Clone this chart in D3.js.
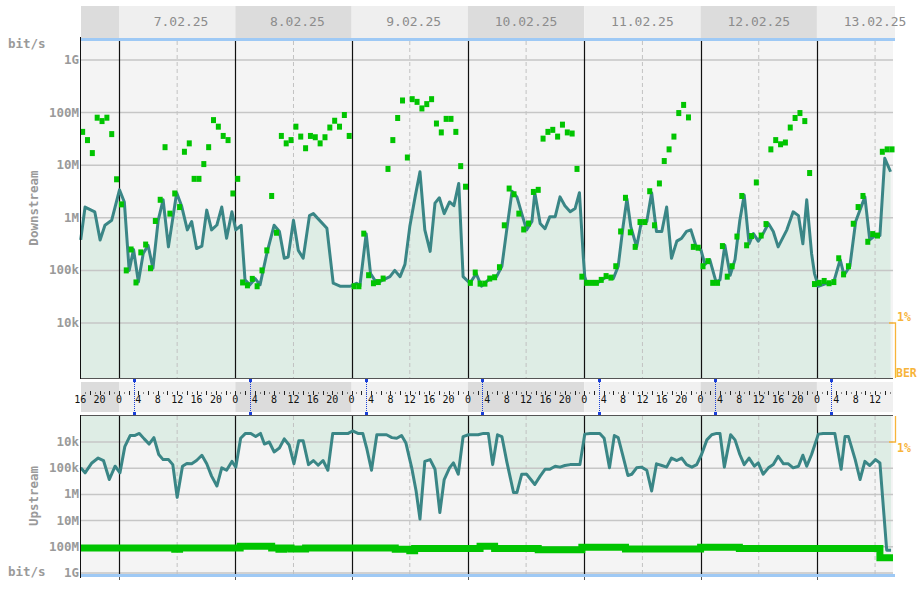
<!DOCTYPE html>
<meta charset="utf-8">
<style>
  body { margin: 0; background: #fff; }
  text { font-family: "DejaVu Sans Mono", monospace; }
  .ylab { font-size: 12.5px; font-weight: bold; fill: #9a9a9a; }
  .day { font-size: 13px; fill: #8c8c8c; }
  .hour { font-size: 10px; fill: #111; }
  .ber { font-size: 11.5px; font-weight: bold; fill: #f7b43a; }
</style>
<body></body>
<script src="https://d3js.org/d3.v7.min.js"></script>
<script>

// days shown in the header (hour 0 = 7.02.25 00:00)
var days = ["7.02.25", "8.02.25", "9.02.25", "10.02.25", "11.02.25", "12.02.25", "13.02.25"];

var yTicks = [1e4, 1e5, 1e6, 1e7, 1e8, 1e9];
var yTickLabels = ["10k", "100k", "1M", "10M", "100M", "1G"];

// downstream rate (teal line), hours / bit/s
var dsHours = [-7.9, -7.0, -5.0, -3.9, -2.9, -1.5, 0.1, 1.1, 2.1, 3.0, 4.0, 5.0, 6.0, 7.0, 8.1, 9.1, 10.2, 11.9,
  12.9, 14.1, 15.0, 16.0, 17.1, 18.1, 19.1, 20.2, 21.2, 22.2, 23.3, 24.1, 25.2, 26.0, 27.0, 28.1, 29.1, 30.5,
  32.0, 33.1, 34.1, 34.9, 36.0, 37.0, 38.0, 39.3, 40.1, 42.9, 44.2, 45.6, 47.7, 49.0, 49.7, 51.0, 51.9, 53.2,
  54.5, 55.9, 56.9, 58.0, 59.0, 60.0, 61.1, 62.1, 63.1, 64.2, 65.2, 66.1, 67.1, 68.2, 69.1, 70.1, 71.0, 72.4,
  73.7, 74.8, 76.2, 77.9, 79.0, 80.0, 81.1, 82.1, 83.1, 84.1, 85.2, 85.8, 86.9, 87.9, 88.9, 90.0, 91.0, 92.0,
  93.1, 94.1, 95.0, 95.8, 96.1, 96.5, 98.6, 100.6, 102.0, 103.0, 104.0, 104.8, 105.6, 106.8, 107.8, 108.9,
  109.9, 110.9, 112.0, 113.0, 114.0, 115.1, 116.1, 117.1, 118.0, 119.0, 120.1, 120.9, 121.9, 123.2, 124.0,
  125.0, 126.1, 127.1, 128.1, 129.0, 130.0, 130.9, 131.9, 132.9, 134.0, 135.0, 136.0, 137.8, 139.1, 140.2,
  141.1, 141.9, 142.9, 143.5, 144.3, 146.0, 147.4, 148.8, 149.6, 150.8, 152.0, 153.9, 154.9, 156.0, 157.0,
  158.0, 159.2];
var dsRate = [3.8e5, 1.6e6, 1.3e6, 3.8e5, 7.2e5, 9e5, 3.4e6, 2e6, 1e5, 2.5e5, 6e4, 2.1e5, 3e5, 1.1e5, 9e5, 2.2e6, 2.8e5, 3e6,
  1.7e6, 5.9e5, 8.5e5, 2.6e5, 2.9e5, 1.4e6, 5.9e5, 7.3e5, 1.6e6, 4.1e5, 1.3e6, 5.9e5, 7.2e5, 6.6e4, 5.3e4, 7e4, 5.3e4, 2.1e5,
  7.2e5, 5.5e5, 1.7e5, 1.8e5, 9e5, 2.4e5, 1.7e5, 1.1e6, 1.2e6, 6.3e5, 5.7e4, 5e4, 5e4, 5.7e4, 5e4, 5e5, 8.7e4, 5.7e4,
  6.6e4, 7.6e4, 1e5, 7.6e4, 1.3e5, 6.8e5, 2.5e6, 7.5e6, 5.9e5, 2.3e5, 1.9e6, 2.4e6, 1.2e6, 2e6, 1.7e6, 4.5e6, 7.6e4, 5.7e4,
  8.7e4, 5e4, 6.6e4, 7.6e4, 1.2e5, 5.9e5, 3.2e6, 2.5e6, 1.2e6, 5.9e5, 8.5e5, 3e6, 7.8e5, 6.2e5, 1.05e6, 1.05e6, 2.5e6, 1.7e6,
  1.3e6, 1.5e6, 3e6, 1.8e5, 7.6e4, 5.7e4, 5.7e4, 7.6e4, 7e4, 1.2e5, 6.8e5, 2.3e6, 6.8e5, 2.8e5, 8.5e5, 8.5e5,
  3e6, 5.5e5, 5.5e5, 1.6e6, 1.7e5, 3.6e5, 4.1e5, 5.5e5, 5.9e5, 3e5, 2.4e5, 1.3e5, 1.6e5, 6e4, 6.6e4,
  3e5, 8.1e4, 1.6e5, 9e5, 2.7e6, 3.2e5, 5e5, 3.6e5, 5e5, 7.8e5, 5.5e5, 2.8e5, 5.9e5, 1.3e6, 1.1e6,
  3.2e5, 2.2e6, 2.1e5, 8.7e4, 5e4, 5.7e4, 5.7e4, 1.6e5, 8.1e4, 1.2e5, 8.5e5, 2.5e6, 3.8e5, 4.6e5, 4.6e5,
  1.35e7, 7.5e6];

// downstream error samples (green squares), one per hour from hour -7.5
var dsErrStart = -7.5;
var dsErrors = [4.3e7, 3e7, 1.7e7, 8e7, 6.9e7, 8e7, 3.9e7, 5.4e6, 1.8e6, 1e5,
  2.5e5, 5.9e4, 2.2e5, 3.1e5, 1.1e5, 8.7e5, 2.2e6, 2.2e7, 1.2e6, 2.9e6,
  1.6e6, 1.8e7, 2.6e7, 5.5e6, 5.5e6, 1.05e7, 2.2e7, 7.2e7, 5.4e7, 3.6e7,
  3e7, 2.9e6, 5.5e6, 5.9e4, 5.2e4, 6.9e4, 5e4, 1e5, 2.4e5, 2.6e6,
  5.2e5, 3.6e7, 2.6e7, 3e7, 5.4e7, 3.5e7, 2.1e7, 3.6e7, 3.4e7, 2.6e7,
  3.4e7, 5.2e7, 7e7, 5.4e7, 9e7, 3.6e7, 5e4, 5e4, 5e5, 8.1e4,
  5.7e4, 6e4, 7e4, 8.5e6, 3e7, 7.9e7, 1.7e8, 1.4e7, 1.8e8, 1.6e8,
  1.2e8, 1.45e8, 1.8e8, 6.2e7, 4.2e7, 7.6e7, 7.6e7, 4.3e7, 9.6e6, 3.9e6,
  5.8e4, 9.1e4, 5.6e4, 5.6e4, 7e4, 7.4e4, 1.15e5, 7.2e5, 3.6e6, 2.8e6,
  1.2e6, 6e5, 7.8e5, 3.1e6, 3.4e6, 3.2e7, 4.3e7, 4.7e7, 3.5e7, 5.9e7,
  4.2e7, 4e7, 8.5e6, 7.6e4, 5.8e4, 5.8e4, 5.8e4, 6.6e4, 7.8e4, 7.3e4,
  1.2e5, 5.5e5, 2.4e6, 5.3e5, 2.8e5, 8.3e5, 8.3e5, 3.2e6, 7.2e5, 4.5e6,
  1.2e7, 2e7, 3.5e7, 9.8e7, 1.4e8, 8.1e7, 2.8e5, 2.7e5, 1.2e5, 1.5e5,
  5.8e4, 5.8e4, 2.9e5, 7.6e4, 1.2e5, 4.4e5, 2.6e6, 3e5, 4.5e5, 4.7e6,
  4.6e5, 7.6e5, 2e7, 3e7, 2.5e7, 2.7e7, 5.2e7, 7.9e7, 9.8e7, 6.9e7,
  7.1e6, 5.5e4, 5.8e4, 6.3e4, 5.7e4, 6e4, 1.7e5, 8.4e4, 1.2e5, 7.7e5,
  1.6e6, 2.6e6, 3.5e5, 4.9e5, 4.6e5, 1.8e7, 2e7, 2e7];

// upstream rate (teal line)
var usHours = [-7.9, -7.0, -5.6, -4.3, -3.2, -2.0, -0.8, 0.2, 1.2, 2.3, 3.2, 4.2, 5.2, 6.2, 7.2, 8.2, 9.1, 10.2,
  11.1, 12.0, 13.1, 14.0, 15.0, 16.0, 17.1, 18.1, 19.1, 20.2, 21.2, 22.2, 23.3, 24.1, 25.1, 26.1, 27.2, 28.2,
  29.2, 30.0, 31.0, 32.0, 33.1, 34.1, 35.1, 36.1, 37.1, 38.0, 39.1, 40.1, 41.1, 42.1, 43.1, 44.1, 45.1, 47.3,
  48.2, 49.3, 50.3, 51.1, 52.1, 53.2, 54.2, 55.2, 56.3, 57.3, 58.3, 59.2, 60.4, 61.3, 62.1, 63.1, 64.2, 65.2,
  66.2, 67.1, 68.2, 69.0, 70.0, 71.0, 72.1, 74.1, 75.2, 76.2, 77.1, 78.1, 79.0, 80.0, 81.4, 82.1, 83.1, 84.1,
  85.8, 86.9, 87.9, 88.9, 90.0, 91.0, 92.0, 93.1, 95.1, 96.1, 97.2, 99.2, 100.1, 101.2, 102.2, 103.0, 104.0,
  105.0, 105.8, 106.8, 107.8, 108.9, 109.9, 110.9, 112.0, 113.0, 114.0, 115.1, 116.1, 117.1, 118.2, 119.2,
  120.2, 121.3, 122.3, 123.3, 124.0, 124.9, 126.2, 127.1, 128.1, 129.0, 130.0, 131.1, 131.9, 132.9, 134.0,
  135.0, 136.0, 137.1, 138.1, 139.1, 140.2, 141.1, 141.9, 142.9, 144.3, 145.3, 147.7, 149.0, 149.8, 150.5,
  151.9, 152.9, 153.9, 154.9, 156.1, 157.0, 158.4, 159.3];
var usRate = [9.7e4, 1.5e5, 6.3e4, 4.1e4, 5.1e4, 2.7e5, 8.4e4, 1.5e5, 1.5e4, 5.7e3, 5.7e3, 4.7e3, 7.6e3, 1.2e4, 6.8e3, 3e4, 4.7e4, 4.7e4,
  7.3e4, 1.3e6, 8.4e4, 6.6e4, 6.8e4, 5.1e4, 3.2e4, 6.8e4, 2e5, 4.8e5, 9.7e4, 1.2e5, 5.5e4, 9.1e4, 7.2e3, 4.7e3, 4.7e3, 6.2e3,
  4.7e3, 1.2e4, 1e4, 2.4e4, 1.7e4, 7.6e3, 1.3e4, 6.8e4, 9e3, 9e3, 7.3e4, 5.1e4, 7.7e4, 5.1e4, 1.2e5, 4.7e3, 4.7e3, 4.7e3,
  3.8e3, 4.7e3, 4.7e3, 1.7e4, 1.2e5, 5.3e3, 5.3e3, 5.3e3, 6.8e3, 7.2e3, 5.7e3, 1.1e4, 9.7e4, 7.4e5, 8.7e6, 5.5e4, 4.7e4, 1.1e5,
  4.9e6, 2.7e5, 9.7e4, 6.3e4, 1.7e5, 6.2e3, 5.3e3, 5.3e3, 4.7e3, 4.7e3, 7.3e4, 5.3e3, 6.2e3, 5.5e4, 8.5e5, 8.5e5, 1.7e5, 1.7e5,
  4.2e5, 2e5, 1.1e5, 1.1e5, 8.4e4, 9.1e4, 7.9e4, 7.3e4, 7.3e4, 5e3, 4.7e3, 4.7e3, 7.2e3, 9.7e4, 5.7e3, 6.8e3, 3.5e4,
  1.9e5, 1.7e5, 9.7e4, 9.1e4, 1.2e5, 7.4e5, 6.8e4, 7.9e4, 9.1e4, 4.1e4, 5.1e4, 4.1e4, 7.3e4, 9.1e4, 7.3e4,
  3e4, 8.3e3, 5.3e3, 4.7e3, 4.7e3, 9.1e4, 5.3e3, 8.3e3, 3e4, 7.3e4, 4.1e4, 8.4e4, 6.3e4, 1.7e5, 9.7e4,
  7.3e4, 3.5e4, 6.8e4, 6.8e4, 9.7e4, 8.4e4, 3.2e4, 8.4e4, 3e4, 5e3, 4.7e3, 4.7e3, 1.1e5, 6.2e3, 6.2e3,
  4.7e4, 2.7e5, 5.5e4, 7.9e4, 4.7e4, 6.3e4, 1.35e8, 1.35e8];

// upstream sync rate (thick green line), value holds from each hour on
var usSyncHours = [-7.9, 11.5, 12.5, 25.0, 31.5, 33.0, 34.0, 35.5, 38.5, 57.0, 60.0, 61.0, 74.5, 77.5, 86.5,
  95.5, 104.5, 120.0, 128.0, 157.0, 159.7];
var usSync = [1.1e8, 1.25e8, 1.1e8, 9.6e7, 1.1e8, 1.25e8, 1.1e8, 1.2e8, 1.1e8, 1.25e8, 1.4e8, 1.15e8, 9.6e7, 1.15e8, 1.3e8,
  1.05e8, 1.2e8, 1.05e8, 1.15e8, 2.6e8, 2.6e8];

var left = 81, right = 893;
var ds = {top: 41, bottom: 378};
var us = {top: 416, bottom: 574};

var svg = d3.select("body").append("svg")
    .attr("width", 923)
    .attr("height", 589);

var x = d3.scaleLinear().domain([-7.84, 159.7]).range([left, right]);
var dsY = d3.scaleLog().domain([1e4, 1e9]).range([323, 60]);
var usY = d3.scaleLog().domain([1e4, 1e9]).range([442, 573]);

var dayIdx = d3.range(-1, 7);
function dayX0(d) { return Math.max(left, x(d * 24)); }
function dayX1(d) { return Math.min(right, x((d + 1) * 24)); }
function shade(d, dark, light) { return Math.abs(d) % 2 == 1 ? dark : light; }

// header
svg.selectAll("rect.hdr").data(dayIdx).enter().append("rect")
    .attr("class", "hdr")
    .attr("x", dayX0)
    .attr("width", function(d) { return dayX1(d) - dayX0(d) + (d == 6 ? 2 : 0); })
    .attr("y", 6).attr("height", 32)
    .attr("fill", function(d) { return shade(d, "#dcdcdc", "#efefef"); });

svg.selectAll("text.day").data(days).enter().append("text")
    .attr("class", "day")
    .attr("x", function(d, i) { return x(i * 24 + 12) + (8 - d.length) * 3.9; })
    .attr("y", 26)
    .attr("text-anchor", "middle")
    .text(function(d) { return d; });

// plot backgrounds
[ds, us].forEach(function(p) {
    svg.append("rect")
        .attr("x", left).attr("y", p.top)
        .attr("width", right - left).attr("height", p.bottom - p.top)
        .attr("fill", "#f4f4f4");
});

// fills
svg.append("path")
    .datum(dsHours)
    .attr("fill", "#deede5")
    .attr("d", d3.area()
        .x(function(d) { return x(d); })
        .y0(ds.bottom)
        .y1(function(d, i) { return dsY(dsRate[i]); }));

svg.append("path")
    .datum(usHours)
    .attr("fill", "#deede5")
    .attr("d", d3.area()
        .x(function(d) { return x(d); })
        .y0(us.top)
        .y1(function(d, i) { return usY(usRate[i]); }));

// grid
svg.selectAll("line.dsgrid").data(yTicks).enter().append("line")
    .attr("x1", left).attr("x2", right)
    .attr("y1", function(d) { return dsY(d); }).attr("y2", function(d) { return dsY(d); })
    .attr("stroke", "#c6c6c6").attr("stroke-width", 1.5);

svg.selectAll("line.usgrid").data(yTicks).enter().append("line")
    .attr("x1", left).attr("x2", right)
    .attr("y1", function(d) { return usY(d); }).attr("y2", function(d) { return usY(d); })
    .attr("stroke", "#c6c6c6").attr("stroke-width", 1.5);

var noons = dayIdx.map(function(d) { return d * 24 + 12; }).filter(function(h) { return x(h) > left; });
var mids = d3.range(0, 7).map(function(d) { return d * 24; });

[ds, us].forEach(function(p) {
    svg.selectAll(null).data(noons).enter().append("line")
        .attr("x1", x).attr("x2", x)
        .attr("y1", p.top).attr("y2", p.bottom)
        .attr("stroke", "#c2c2c2").attr("stroke-dasharray", "4,3");
    svg.selectAll(null).data(mids).enter().append("line")
        .attr("x1", function(d) { return Math.round(x(d)) + 0.5; })
        .attr("x2", function(d) { return Math.round(x(d)) + 0.5; })
        .attr("y1", p.top).attr("y2", p.bottom)
        .attr("stroke", "#111").attr("stroke-width", 1.2);
});

// upstream sync line
svg.append("path")
    .datum(usSyncHours)
    .attr("fill", "none")
    .attr("stroke", "#00c400")
    .attr("stroke-width", 7)
    .attr("d", d3.line()
        .curve(d3.curveStepAfter)
        .x(function(d) { return x(d); })
        .y(function(d, i) { return usY(usSync[i]); }));

// rate lines
svg.append("path")
    .datum(dsHours)
    .attr("fill", "none")
    .attr("stroke", "#3a8686")
    .attr("stroke-width", 3)
    .attr("stroke-linejoin", "round")
    .attr("d", d3.line()
        .x(function(d) { return x(d); })
        .y(function(d, i) { return dsY(dsRate[i]); }));

svg.append("path")
    .datum(usHours)
    .attr("fill", "none")
    .attr("stroke", "#3a8686")
    .attr("stroke-width", 3)
    .attr("stroke-linejoin", "round")
    .attr("d", d3.line()
        .x(function(d) { return x(d); })
        .y(function(d, i) { return usY(usRate[i]); }));

// error squares
svg.selectAll("rect.err").data(dsErrors).enter().append("rect")
    .attr("class", "err")
    .attr("x", function(d, i) { return x(dsErrStart + i) - 2.5; })
    .attr("y", function(d) { return dsY(d) - 3; })
    .attr("width", 5).attr("height", 6)
    .attr("fill", "#00c400");

// frame lines
svg.append("rect").attr("x", left).attr("y", 38).attr("width", right - left + 2).attr("height", 3).attr("fill", "#9ec9f5");
svg.append("rect").attr("x", left).attr("y", 574).attr("width", right - left + 2).attr("height", 3).attr("fill", "#9ec9f5");
svg.append("line").attr("x1", left).attr("x2", right).attr("y1", 378.5).attr("y2", 378.5).attr("stroke", "#555");
svg.append("line").attr("x1", left).attr("x2", right).attr("y1", 415.5).attr("y2", 415.5).attr("stroke", "#555");
svg.append("line").attr("x1", left - 0.5).attr("x2", left - 0.5).attr("y1", 37).attr("y2", 379).attr("stroke", "#111");
svg.append("line").attr("x1", left - 0.5).attr("x2", left - 0.5).attr("y1", 415).attr("y2", 578).attr("stroke", "#111");
svg.selectAll(null).data(mids).enter().append("line")
    .attr("x1", function(d) { return Math.round(x(d)) + 0.5; })
    .attr("x2", function(d) { return Math.round(x(d)) + 0.5; })
    .attr("y1", 577).attr("y2", 580)
    .attr("stroke", "#555");

// hour band between the plots
svg.selectAll("rect.band").data(dayIdx).enter().append("rect")
    .attr("x", dayX0)
    .attr("width", function(d) { return dayX1(d) - dayX0(d); })
    .attr("y", 382).attr("height", 30)
    .attr("fill", function(d) { return shade(d, "#dcdcdc", "#f0f0f0"); });

var hours = d3.range(-7, 160);
svg.selectAll("line.htick").data(hours).enter().append("line")
    .attr("x1", function(d) { return Math.round(x(d)) + 0.5; })
    .attr("x2", function(d) { return Math.round(x(d)) + 0.5; })
    .attr("y1", function(d) { return d % 2 == 0 ? 391 : 392.5; })
    .attr("y2", function(d) { return d % 2 == 0 ? 395 : 393.5; })
    .attr("stroke", "#222");

svg.selectAll("text.hour").data(d3.range(-8, 160, 4)).enter().append("text")
    .attr("class", "hour")
    .attr("x", x)
    .attr("y", 403)
    .attr("text-anchor", "middle")
    .text(function(d) { return ((d % 24) + 24) % 24; });

// daily 3:00 markers
var marks = d3.range(0, 7).map(function(d) { return d * 24 + 3; });
svg.selectAll("line.mark").data(marks).enter().append("line")
    .attr("x1", function(d) { return Math.round(x(d)) + 0.5; })
    .attr("x2", function(d) { return Math.round(x(d)) + 0.5; })
    .attr("y1", 380).attr("y2", 414)
    .attr("stroke", "#1a3fd8").attr("stroke-dasharray", "1,1");
marks.forEach(function(h) {
    [380, 413].forEach(function(y) {
        svg.append("rect").attr("x", Math.round(x(h)) - 1).attr("y", y - 1)
            .attr("width", 3).attr("height", 3).attr("fill", "#1a3fd8");
    });
});

// y labels
svg.selectAll("text.dsl").data(yTicks).enter().append("text")
    .attr("class", "ylab")
    .attr("x", 79)
    .attr("y", function(d) { return dsY(d) + 4; })
    .attr("text-anchor", "end")
    .text(function(d, i) { return yTickLabels[i]; });

svg.selectAll("text.usl").data(yTicks).enter().append("text")
    .attr("class", "ylab")
    .attr("x", 79)
    .attr("y", function(d) { return usY(d) + 4; })
    .attr("text-anchor", "end")
    .text(function(d, i) { return yTickLabels[i]; });

svg.append("text").attr("class", "ylab").attr("x", 8).attr("y", 48).text("bit/s");
svg.append("text").attr("class", "ylab").attr("x", 8).attr("y", 576).text("bit/s");

svg.append("text").attr("class", "ylab")
    .attr("transform", "translate(38,208) rotate(-90)")
    .attr("text-anchor", "middle")
    .text("Downstream");
svg.append("text").attr("class", "ylab")
    .attr("transform", "translate(38,496) rotate(-90)")
    .attr("text-anchor", "middle")
    .text("Upstream");

// BER scale
var orange = "#f7b43a";
svg.append("path")
    .attr("d", "M889," + dsY(1e4) + "H895.5V" + ds.bottom)
    .attr("fill", "none").attr("stroke", orange).attr("stroke-width", 1.3);
svg.append("path")
    .attr("d", "M895.5," + us.top + "V" + usY(1e4) + "H889")
    .attr("fill", "none").attr("stroke", orange).attr("stroke-width", 1.3);
svg.append("text").attr("class", "ber").attr("x", 897).attr("y", dsY(1e4) - 2).text("1%");
svg.append("text").attr("class", "ber").attr("x", 896).attr("y", 377).text("BER");
svg.append("text").attr("class", "ber").attr("x", 897).attr("y", usY(1e4) + 10).text("1%");

</script>
